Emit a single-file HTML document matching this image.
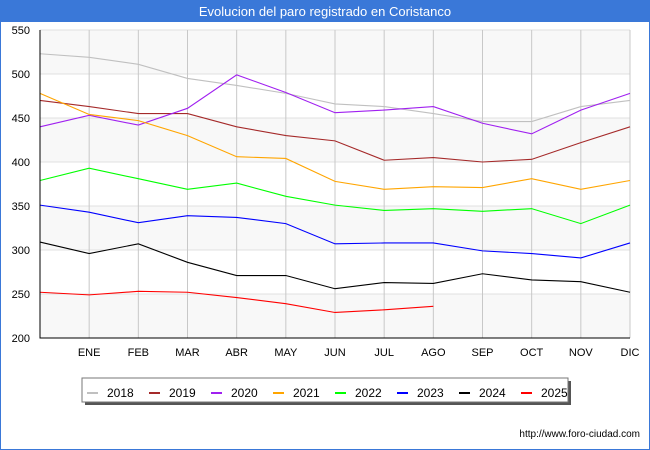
<!DOCTYPE html>
<html><head><meta charset="utf-8"><style>
body{margin:0;background:#fff}
svg{display:block;font-family:"Liberation Sans","DejaVu Sans",sans-serif}
</style></head><body>
<svg id="chart" width="650" height="450" viewBox="0 0 650 450" xmlns="http://www.w3.org/2000/svg">
<rect x="0" y="0" width="650" height="450" fill="#fff" stroke="#3a78d8" stroke-width="2"/>
<rect x="0" y="0" width="650" height="22" fill="#3a78d8"/>
<text x="325" y="16" text-anchor="middle" font-size="13" fill="#fff">Evolucion del paro registrado en Coristanco</text>
<g id="bands"></g>
<g id="grid"></g>
<g id="series"></g>
<g id="axes"></g>
<g id="legend"></g>
<text x="640" y="437" text-anchor="end" font-size="10" fill="#000">http://www.foro-ciudad.com</text>
</svg>
<script>
const months = ["","ENE","FEB","MAR","ABR","MAY","JUN","JUL","AGO","SEP","OCT","NOV","DIC"];
const yTicks = [200,250,300,350,400,450,500,550];
const years = ["2018","2019","2020","2021","2022","2023","2024","2025"];
const colors = ["#c0c0c0","#a52a2a","#a020f0","#ffa500","#00ff00","#0000ff","#000000","#ff0000"];
const s2018 = [523,519,511,495,487,478,466,463,455,446,446,463,470];
const s2019 = [470,463,455,455,440,430,424,402,405,400,403,422,440];
const s2020 = [440,453,442,461,499,479,456,459,463,444,432,459,478];
const s2021 = [478,454,447,430,406,404,378,369,372,371,381,369,379];
const s2022 = [379,393,381,369,376,361,351,345,347,344,347,330,351];
const s2023 = [351,343,331,339,337,330,307,308,308,299,296,291,308];
const s2024 = [309,296,307,286,271,271,256,263,262,273,266,264,252];
const s2025 = [252,249,253,252,246,239,229,232,236];
const allSeries = [s2018,s2019,s2020,s2021,s2022,s2023,s2024,s2025];

const NS="http://www.w3.org/2000/svg";
const X0=40,X1=630,Y0=338,Y1=30,VMIN=200,VMAX=550;
const xScale=i=>X0+i*(X1-X0)/12;
const yScale=v=>Y0-(v-VMIN)*(Y0-Y1)/(VMAX-VMIN);
function mk(tag,attrs,parent){const e=document.createElementNS(NS,tag);for(const k in attrs)e.setAttribute(k,attrs[k]);parent.appendChild(e);return e;}
const bands=document.getElementById('bands'),grid=document.getElementById('grid'),ser=document.getElementById('series'),axes=document.getElementById('axes'),leg=document.getElementById('legend');
for(let i=0;i<yTicks.length-1;i++){
  const r=mk('rect',{x:X0,y:yScale(yTicks[i+1]),width:X1-X0,height:yScale(yTicks[i])-yScale(yTicks[i+1]),fill:(i%2===0)?'#f8f8f8':'#ffffff'},bands);
  
  
}
yTicks.forEach(v=>{
  const l=mk('line',{x1:X0,x2:X1,y1:yScale(v),y2:yScale(v),stroke:'#e0e0e0','stroke-width':1},grid);
  
  
  const t=mk('text',{x:X0-10,y:yScale(v)+4,'text-anchor':'end','font-size':11,fill:'#000'},axes);
  t.textContent=v;
  
  
});
months.forEach((m,i)=>{
  if(i>0){
    const l=mk('line',{x1:xScale(i),x2:xScale(i),y1:Y1,y2:Y0,stroke:'#c8c8c8','stroke-width':1},grid);
    
    
  }
  const t=mk('text',{x:xScale(i),y:356,'text-anchor':'middle','font-size':11,fill:'#000'},axes);
  t.textContent=m;
  
  
});
const ax=mk('path',{d:`M${X0} ${Y1}V${Y0}H${X1}`,fill:'none',stroke:'#000','stroke-width':1},axes);


allSeries.forEach((s,k)=>{
  const p=mk('polyline',{points:s.map((v,i)=>xScale(i)+','+yScale(v)).join(' '),fill:'none',stroke:colors[k],'stroke-width':1.1},ser);
  
  
});
const lb=mk('rect',{x:85,y:381,width:486,height:24,fill:'#555'},leg);


const lbox=mk('rect',{x:82,y:378,width:486,height:24,fill:'#fff',stroke:'#777','stroke-width':1},leg);


years.forEach((y,k)=>{
  const g=mk('g',{},leg);
  
  
  const bx=87+k*62;
  mk('line',{x1:bx,x2:bx+11,y1:393,y2:393,stroke:colors[k],'stroke-width':2},g);
  const t=mk('text',{x:bx+20,y:397,'font-size':12,fill:'#000'},g);
  t.textContent=y;
});
</script>
</body></html>
